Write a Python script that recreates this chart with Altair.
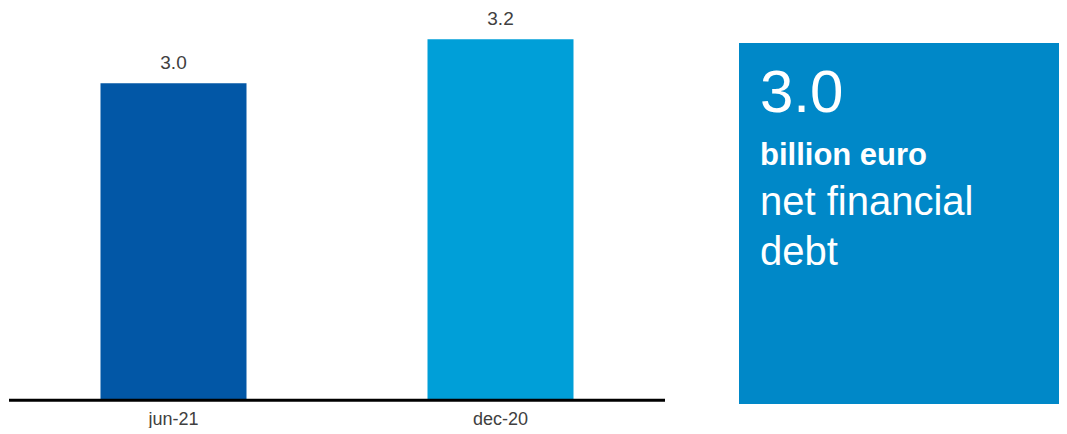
import altair as alt
import pandas as pd

# ---- data ----
periods = ["jun-21", "dec-20"]
values = [3.0, 3.2]
bar_colors = ["#0257A6", "#009FD8"]
headline_unit = "billion euro"
headline_lines = ["net financial", "debt"]

df = pd.DataFrame({"period": periods, "value": values, "color": bar_colors})

FONT = "Liberation Sans"
BASE = 1.566          # value at which the baseline sits (bars start here)
Y_DOMAIN = [1.4409, 3.3409]

x_enc = alt.X("period:N", sort=periods, axis=None,
              scale=alt.Scale(range=[2, 656], paddingInner=0, paddingOuter=0))
y_scale = alt.Scale(domain=Y_DOMAIN, zero=False, nice=False)

base = alt.Chart(df)

bars = base.mark_bar(size=146).encode(
    x=x_enc,
    y=alt.Y("value:Q", scale=y_scale, axis=None),
    y2=alt.datum(BASE),
    color=alt.Color("color:N", scale=None, legend=None),
)

value_labels = base.mark_text(
    baseline="alphabetic", dy=-14, fontSize=19, font=FONT, color="#404040"
).encode(
    x=x_enc,
    y=alt.Y("value:Q", scale=y_scale, axis=None),
    text=alt.Text("value:Q", format=".1f"),
)

cat_labels = base.mark_text(
    baseline="alphabetic", fontSize=18, font=FONT, color="#404040"
).encode(
    x=x_enc,
    y=alt.value(417),
    text="period:N",
)

one = alt.Data(values=[{}])

baseline_rule = alt.Chart(one).mark_rule(color="black", strokeWidth=3).encode(
    x=alt.value(1), x2=alt.value(657),
    y=alt.datum(BASE, scale=y_scale),
)

box = alt.Chart(one).mark_rect(color="#0088C8").encode(
    x=alt.value(731), x2=alt.value(1059),
    y=alt.value(35), y2=alt.value(396),
)

def box_text(txt, y, size, weight="normal"):
    return alt.Chart(one).mark_text(
        align="left", baseline="alphabetic", fontSize=size, font=FONT,
        fontWeight=weight, color="white"
    ).encode(x=alt.value(752), y=alt.value(y), text=alt.value(txt))

big = box_text(f"{values[0]:.1f}", 104, 60)
unit = box_text(headline_unit, 157, 31, "bold")
line1 = box_text(headline_lines[0], 207, 40)
line2 = box_text(headline_lines[1], 257, 40)

chart = alt.layer(
    bars, value_labels, cat_labels, baseline_rule, box, big, unit, line1, line2
).properties(
    width=1051, height=420, padding=0,
    autosize=alt.AutoSizeParams(type="none"),
).configure_view(stroke=None)

chart.save("out.html", embed_options={"renderer": "svg", "actions": False})
